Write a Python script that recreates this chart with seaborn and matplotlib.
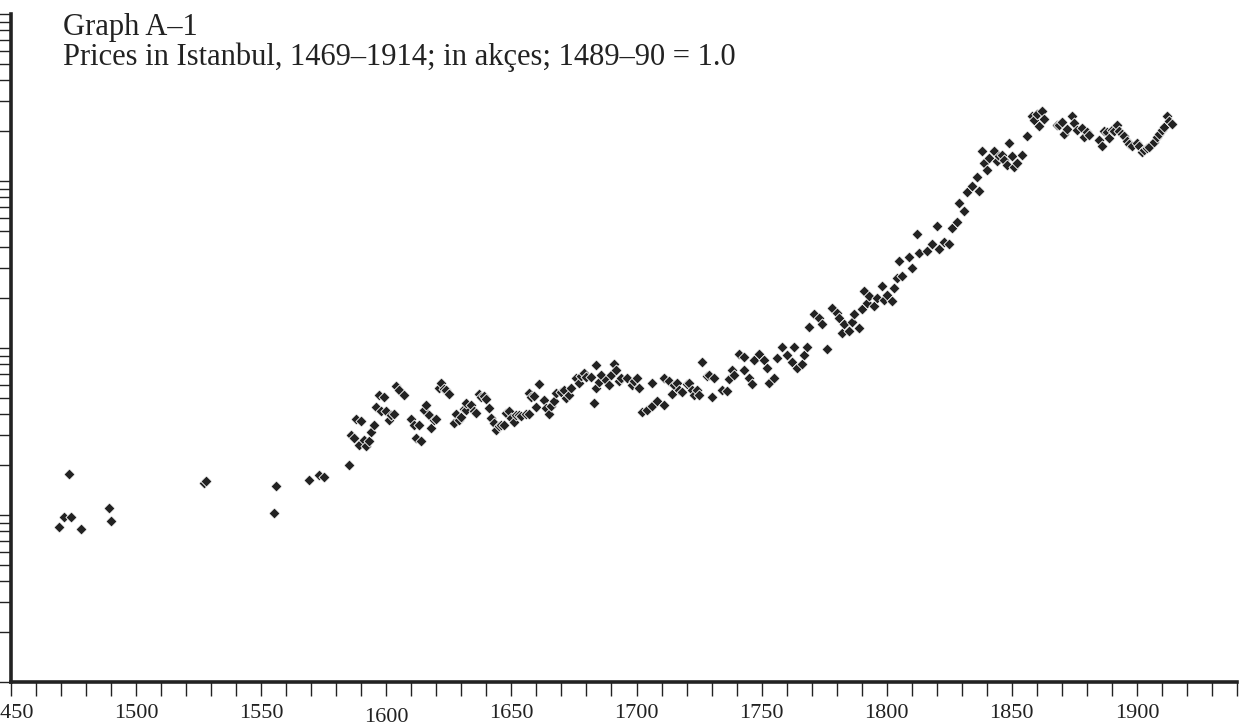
import matplotlib
matplotlib.use("Agg")
import matplotlib.pyplot as plt
import seaborn as sns
import pandas as pd
from matplotlib.ticker import LogLocator, NullFormatter, MultipleLocator, FixedLocator, FixedFormatter

years = [1469, 1471, 1473, 1474, 1478, 1489, 1490, 1527, 1528, 1555, 1556, 1569, 1573, 1575,
         1585, 1586, 1587, 1588, 1589, 1590, 1591, 1592, 1593, 1594, 1595, 1596, 1597, 1598, 1599,
         1600, 1601, 1602, 1603, 1604, 1605, 1607, 1610, 1611, 1612, 1613, 1614, 1615, 1616, 1617,
         1618, 1619, 1620, 1621, 1622, 1623, 1624, 1625, 1627, 1628, 1629, 1630, 1631, 1632, 1632,
         1634, 1635, 1636, 1637, 1638, 1639, 1640, 1641, 1642, 1643, 1644, 1645, 1646, 1647, 1648,
         1649, 1650, 1651, 1652, 1653, 1654, 1656, 1657, 1657, 1658, 1659, 1660, 1661, 1663, 1664,
         1665, 1666, 1667, 1668, 1670, 1671, 1672, 1673, 1674, 1676, 1677, 1678, 1679, 1680, 1682,
         1683, 1684, 1684, 1685, 1686, 1688, 1689, 1690, 1691, 1692, 1693, 1694, 1696, 1698, 1699,
         1700, 1701, 1702, 1704, 1706, 1706, 1708, 1711, 1711, 1713, 1714, 1715, 1716, 1717, 1718,
         1720, 1721, 1722, 1723, 1724,
         1725, 1726, 1728, 1729, 1730, 1731, 1734, 1736, 1737, 1738, 1739, 1741, 1743, 1743, 1745,
         1746, 1747, 1749, 1751, 1752, 1753, 1755, 1756, 1758, 1760, 1762, 1763, 1764, 1766, 1767,
         1768, 1769, 1771, 1773, 1774, 1776, 1778, 1780, 1781, 1782, 1783, 1785, 1786, 1787, 1789,
         1790, 1791, 1792, 1793, 1795, 1796, 1798, 1799, 1800, 1802, 1803, 1804, 1805, 1806, 1809,
         1810, 1812, 1813, 1816, 1818, 1820, 1821, 1823, 1825, 1826, 1828, 1829, 1831, 1832, 1834,
         1836, 1837, 1838, 1839, 1840, 1841, 1843, 1844, 1845,
         1846, 1847, 1848, 1849, 1850, 1851, 1852, 1854, 1856, 1858, 1859, 1860, 1861, 1862, 1863,
         1868, 1869, 1870, 1871, 1872, 1874, 1875, 1876, 1878, 1879, 1880, 1881, 1885, 1886, 1887,
         1888, 1889, 1890, 1891, 1892, 1893, 1894, 1895, 1896, 1897, 1898, 1900, 1901, 1902, 1903,
         1904, 1905, 1907, 1908, 1909, 1910, 1911, 1912, 1913, 1914]

prices = [0.85, 0.97, 1.76, 0.97, 0.82, 1.10, 0.92, 1.55, 1.60, 1.03, 1.49, 1.62, 1.74, 1.69,
          1.98, 3.00, 2.89, 3.77, 2.61, 3.67, 2.82, 2.58, 2.79, 3.14, 3.47, 4.41, 5.21, 4.18, 5.07,
          4.18, 3.72, 3.95, 4.03, 5.89, 5.63, 5.25, 3.76, 3.47, 2.89, 3.47, 2.76, 4.27, 4.58, 3.95,
          3.32, 3.72, 3.76, 5.76, 6.17, 5.71, 5.63, 5.31, 3.56, 4.03, 3.72, 3.85, 4.33, 4.27, 4.69,
          4.58, 4.18, 4.08, 5.31, 5.07, 5.14, 4.97, 4.37, 3.81, 3.56, 3.24, 3.40, 3.45, 3.47, 4.08,
          4.18, 3.81, 3.61, 3.95, 3.95, 3.90, 4.03, 4.02, 5.38, 5.07, 5.14, 4.41, 6.08, 4.91, 4.37,
          4.02, 4.47, 4.84, 5.38, 5.45, 5.63, 5.02, 5.25, 5.76, 6.61, 6.17, 6.77, 7.08, 6.68, 6.68,
          4.69, 7.94, 5.76, 6.26, 6.92, 6.46, 5.97, 6.92, 8.05, 7.41, 6.32, 6.61, 6.61, 5.97, 6.38,
          6.61, 5.76, 4.14, 4.27, 4.47, 6.17, 4.79, 4.54, 6.61, 6.38, 5.30, 6.03, 6.17, 5.63, 5.45,
          6.08, 6.17, 5.63, 5.20, 5.63,
          5.25, 8.30, 6.80, 6.90, 5.10, 6.60, 5.60, 5.55, 6.55, 7.40, 6.90, 9.20, 8.80, 7.40, 6.60,
          6.10, 8.50, 9.20, 8.50, 7.60, 6.20, 6.60, 8.70, 10.2, 9.10, 8.30, 10.2, 7.60, 8.00, 9.10,
          10.1, 13.3, 16.0, 15.1, 13.9, 9.90, 17.4, 16.2, 15.1, 12.3, 13.9, 12.7, 14.3, 16.0, 13.2,
          17.2, 22.0, 18.6, 20.4, 17.8, 19.9, 23.4, 19.5, 20.9, 19.0, 22.9, 26.2, 33.3, 27.0, 35.0,
          30.0, 48.0, 37.0, 38.0, 42.0, 54.0, 39.0, 43.0, 42.0, 52.0, 57.0, 74.0, 66.0, 86.0, 93.0,
          105, 87.0, 151, 128, 117, 137, 151, 131, 141,
          144, 134, 124, 169, 141, 121, 128, 144, 185, 244, 233, 253, 214, 261, 235,
          215, 217, 225, 192, 205, 246, 222, 203, 208, 183, 196, 189, 175, 161, 198,
          196, 181, 203, 198, 215, 198, 191, 185, 173, 167, 163, 169, 163, 149, 153,
          158, 159, 171, 183, 190, 201, 210, 244, 230, 220]

xtick_values = [1450, 1500, 1550, 1600, 1650, 1700, 1750, 1800, 1850, 1900]
xtick_labels = ["1450", "1500", "1550", "1600", "1650", "1700", "1750", "1800", "1850", "1900"]
title_line1 = "Graph A\u20131"
title_line2 = "Prices in Istanbul, 1469\u20131914; in ak\u00e7es; 1489\u201390 = 1.0"

df = pd.DataFrame({"year": years, "price": prices})

sns.set_style("ticks")
serif = ["Liberation Serif", "DejaVu Serif"]
plt.rcParams["font.family"] = serif

W, H = 1246, 726
fig = plt.figure(figsize=(W / 100, H / 100), dpi=100)
ax = fig.add_axes([11 / W, 1 - 682 / H, (1237 - 11) / W, (682 - 14) / H])

ink = "#222222"
sns.scatterplot(data=df, x="year", y="price", marker="D", s=32, color=ink,
                edgecolor="white", linewidth=0.6, ax=ax, legend=False, zorder=3)

ax.set_yscale("log")
ax.set_ylim(0.1, 1000)
ax.set_xlim(1450, 1940)

ax.yaxis.set_major_locator(LogLocator(base=10, numticks=10))
ax.yaxis.set_minor_locator(LogLocator(base=10, subs=[2, 3, 4, 5, 6, 7, 8, 9], numticks=20))
ax.yaxis.set_major_formatter(NullFormatter())
ax.yaxis.set_minor_formatter(NullFormatter())
ax.tick_params(axis="y", which="both", direction="out", length=12, width=1.0, color=ink)

ax.xaxis.set_major_locator(FixedLocator(xtick_values))
ax.xaxis.set_major_formatter(FixedFormatter(xtick_labels))
ax.xaxis.set_minor_locator(MultipleLocator(10))
ax.tick_params(axis="x", which="both", direction="out", length=10, width=1.0, color=ink,
               labelsize=16, pad=6, labelcolor=ink)
for t in ax.get_xticklabels():
    t.set_fontfamily(serif)

ax.spines["top"].set_visible(False)
ax.spines["right"].set_visible(False)
for s in ("left", "bottom"):
    ax.spines[s].set_linewidth(2.6)
    ax.spines[s].set_color(ink)

ax.set_xlabel("")
ax.set_ylabel("")

# "1600" sits slightly lower in the original
for tk in ax.xaxis.get_major_ticks():
    if abs(tk.get_loc() - 1600) < 0.1:
        tk.set_pad(9)

fig.text(63 / W, 1 - 35 / H, title_line1, fontsize=22, color=ink, va="baseline", ha="left",
         family=serif)
fig.text(63 / W, 1 - 65 / H, title_line2, fontsize=22, color=ink, va="baseline", ha="left",
         family=serif)

fig.savefig("out.png", dpi=100)
